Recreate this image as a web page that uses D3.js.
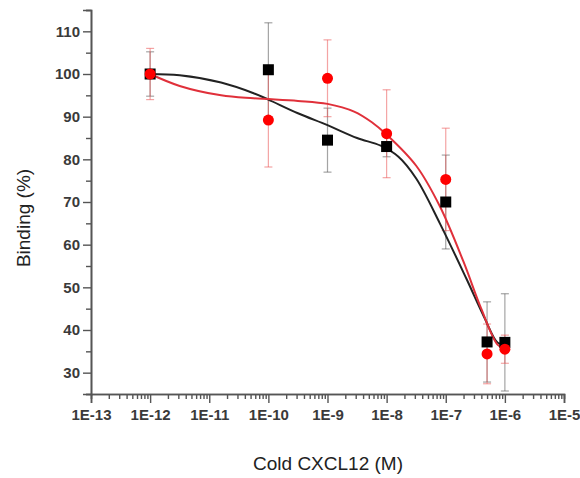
<!DOCTYPE html>
<html>
<head>
<meta charset="utf-8">
<script src="https://cdn.jsdelivr.net/npm/d3@7"></script>
<style>
  body { margin: 0; background: #fff; }
  svg { display: block; font-family: "Liberation Sans", Arial, sans-serif; }
</style>
</head>
<body>
<svg id="chart" width="580" height="478"></svg>
<script>
// concentrations (M)
const concentrations = [1e-12, 1e-10, 1e-9, 1e-8, 1e-7, 5e-7, 1e-6]

// black series (squares)
const blackValues = [100, 101, 84.5, 83, 70, 37.2, 37.1]
const blackErrors = [5.2, 11, 7.5, 2.4, 11, 9.4, 11.4]

// red series (circles)
const redValues = [100, 89.2, 99, 86, 75.3, 34.4, 35.5]
const redErrors = [6, 11, 9, 10.3, 12, 7, 3.3]

// fitted curves (log10 of concentration)
const blackFitLogX = [-12, -11.5, -10.8, -10.25, -10, -9.5, -9, -8.5, -8.1, -7.8, -7.5, -7.1, -6.65, -6.35, -6.12, -6]
const blackFitY = [100, 99.7, 98, 95.5, 94, 90.8, 88, 85, 83.2, 80.6, 75.5, 65, 52, 43, 37, 36.8]
const redFitLogX = [-12, -11.5, -10.8, -10.25, -9.5, -9, -8.55, -8.25, -8, -7.5, -7.1, -6.7, -6.4, -6.12, -6]
const redFitY = [100, 97.2, 95, 94.3, 93.7, 93, 91.2, 88.7, 85.8, 78.5, 69, 56, 45, 36.5, 35.6]

const yMajorTicks = [30, 40, 50, 60, 70, 80, 90, 100, 110]
const yMinorTicks = [25, 35, 45, 55, 65, 75, 85, 95, 105, 115]
const xMajorTicks = [1e-13, 1e-12, 1e-11, 1e-10, 1e-9, 1e-8, 1e-7, 1e-6, 1e-5]

const X_LABEL = 'Cold CXCL12 (M)'
const Y_LABEL = 'Binding (%)'

const AXIS_COLOR = '#555'
const RED = '#ff0000'

const svg = d3.select('#chart')

const x = d3.scaleLog().domain([1e-13, 1e-5]).range([91, 564])
const y = d3.scaleLinear().domain([25, 115]).range([394, 10])

const xMinorTicks = []
for (let d = -13; d < -5; d++) {
  for (let k = 2; k <= 9; k++) xMinorTicks.push(k * Math.pow(10, d))
}

const styleAxis = (g) => {
  g.select('.domain').attr('stroke', AXIS_COLOR).attr('stroke-width', 1.6)
  g.selectAll('.tick line').attr('stroke', AXIS_COLOR).attr('stroke-width', 1.4)
  g.selectAll('.tick text')
    .attr('fill', '#3a3a3a')
    .style('font-size', '15px')
    .style('font-weight', 'bold')
}

// minor ticks first, majors on top
svg.append('g')
  .attr('transform', 'translate(0,394)')
  .call(d3.axisBottom(x).tickValues(xMinorTicks).tickSize(5).tickFormat(''))
  .call(styleAxis)
svg.append('g')
  .attr('transform', 'translate(0,394)')
  .call(d3.axisBottom(x).tickValues(xMajorTicks).tickSize(9).tickPadding(6)
    .tickFormat((d) => '1E' + Math.round(Math.log10(d))))
  .call(styleAxis)

svg.append('g')
  .attr('transform', 'translate(91,0)')
  .call(d3.axisLeft(y).tickValues(yMinorTicks).tickSize(5).tickFormat(''))
  .call(styleAxis)
svg.append('g')
  .attr('transform', 'translate(91,0)')
  .call(d3.axisLeft(y).tickValues(yMajorTicks).tickSize(8).tickPadding(3))
  .call(styleAxis)

// axis titles
svg.append('text')
  .attr('x', 328)
  .attr('y', 470)
  .attr('text-anchor', 'middle')
  .attr('fill', '#222')
  .style('font-size', '19px')
  .text(X_LABEL)
svg.append('text')
  .attr('transform', 'translate(30,218) rotate(-90)')
  .attr('text-anchor', 'middle')
  .attr('fill', '#222')
  .style('font-size', '19px')
  .text(Y_LABEL)

const errorBars = (values, errors, color) => {
  const g = svg.append('g').attr('stroke', color).attr('stroke-width', 1.2)
  concentrations.forEach((c, i) => {
    const cx = x(c)
    const top = y(values[i] + errors[i])
    const bottom = y(Math.max(values[i] - errors[i], 25))
    g.append('line').attr('x1', cx).attr('x2', cx).attr('y1', top).attr('y2', bottom)
    g.append('line').attr('x1', cx - 4).attr('x2', cx + 4).attr('y1', top).attr('y2', top)
    if (values[i] - errors[i] > 25) {
      g.append('line').attr('x1', cx - 4).attr('x2', cx + 4).attr('y1', bottom).attr('y2', bottom)
    }
  })
}

errorBars(blackValues, blackErrors, 'rgba(90,90,90,0.55)')
errorBars(redValues, redErrors, 'rgba(235,90,90,0.55)')

const fitLine = d3.line()
  .x((d) => x(Math.pow(10, d[0])))
  .y((d) => y(d[1]))
  .curve(d3.curveCatmullRom.alpha(0.5))

svg.append('path')
  .datum(d3.zip(blackFitLogX, blackFitY))
  .attr('fill', 'none')
  .attr('stroke', '#222')
  .attr('stroke-width', 2)
  .attr('d', fitLine)
svg.append('path')
  .datum(d3.zip(redFitLogX, redFitY))
  .attr('fill', 'none')
  .attr('stroke', '#e0303a')
  .attr('stroke-width', 2)
  .attr('d', fitLine)

// markers
svg.append('g')
  .selectAll('rect')
  .data(d3.zip(concentrations, blackValues))
  .join('rect')
  .attr('x', (d) => x(d[0]) - 5.5)
  .attr('y', (d) => y(d[1]) - 5.5)
  .attr('width', 11)
  .attr('height', 11)
  .attr('fill', '#000')

svg.append('g')
  .selectAll('circle')
  .data(d3.zip(concentrations, redValues))
  .join('circle')
  .attr('cx', (d) => x(d[0]))
  .attr('cy', (d) => y(d[1]))
  .attr('r', 5.5)
  .attr('fill', RED)
</script>
</body>
</html>
